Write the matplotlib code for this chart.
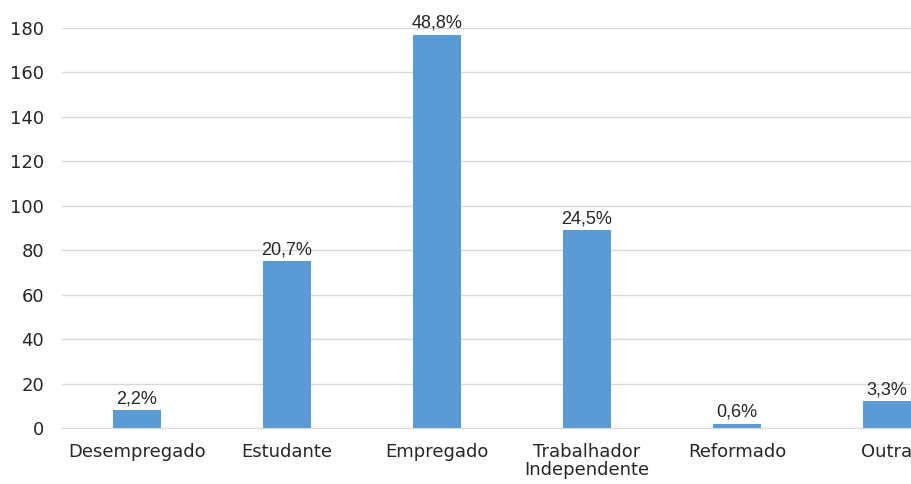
import matplotlib
matplotlib.use("Agg")
import matplotlib.pyplot as plt

categories = ["Desempregado", "Estudante", "Empregado", "Trabalhador\nIndependente", "Reformado", "Outra"]
values = [8, 75, 177, 89, 2, 12]
pct_labels = ["2,2%", "20,7%", "48,8%", "24,5%", "0,6%", "3,3%"]
yticks = [0, 20, 40, 60, 80, 100, 120, 140, 160, 180]

plt.rcParams['font.family'] = ['DejaVu Sans']

W, H = 912, 484
fig = plt.figure(figsize=(W/100, H/100), dpi=100)
ax = fig.add_axes([62/W, (H-428)/H, 900/W, 400/H])

x = list(range(len(categories)))
ax.bar(x, values, width=0.32, color="#5B9BD5", zorder=3)
for xi, v, lab in zip(x, values, pct_labels):
    ax.annotate(lab, (xi, v), xytext=(0, 2), textcoords="offset points",
                ha="center", va="bottom", fontsize=13, color="#262626",
                family=['Liberation Sans', 'DejaVu Sans'])

ax.set_xlim(-0.5, len(categories) - 0.5)
ax.set_ylim(0, 180)
ax.set_yticks(yticks)
ax.set_xticks(x)
ax.set_xticklabels(categories, fontsize=13, color="#262626", linespacing=1.0)
ax.tick_params(axis="y", length=0, pad=13, labelsize=13, labelcolor="#262626")
ax.tick_params(axis="x", length=0, pad=11)
ax.grid(axis="y", color="#D9D9D9", linewidth=1, zorder=0)
for s in ["top", "right", "left"]:
    ax.spines[s].set_visible(False)
ax.spines["bottom"].set_color("#D9D9D9")
ax.spines["bottom"].set_zorder(4)

fig.savefig("out.png", dpi=100)
